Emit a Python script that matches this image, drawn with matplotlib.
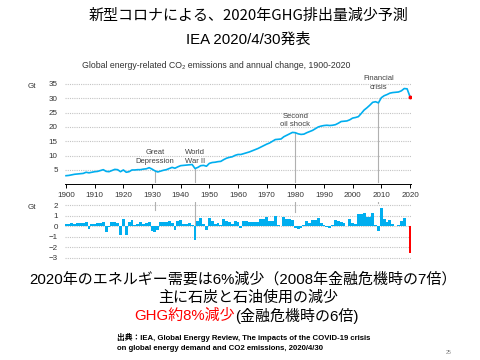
import matplotlib
matplotlib.use("Agg")
import matplotlib.pyplot as plt
import numpy as np

# ---------------- data ----------------
years = list(range(1900, 2021))
emissions = [
    3.0, 3.1, 3.3, 3.5, 3.6, 3.7, 3.8, 4.2, 4.0, 4.2,      # 1900s
    4.4, 4.5, 4.8, 5.1, 4.5, 4.4, 4.8, 5.2, 5.1, 4.4,      # 1910s
    5.0, 4.2, 4.4, 5.0, 5.0, 5.1, 5.1, 5.3, 5.4, 5.8,      # 1920s
    5.3, 4.7, 4.3, 4.6, 4.9, 5.1, 5.5, 5.9, 5.6, 6.1,      # 1930s
    6.5, 6.6, 6.7, 6.8, 6.9, 5.5, 5.9, 6.5, 6.6, 6.3,      # 1940s
    7.3, 7.6, 7.7, 7.9, 8.0, 8.6, 9.1, 9.4, 9.6, 10.1,     # 1950s
    10.4, 10.4, 10.7, 11.0, 11.3, 11.7, 12.1, 12.5, 13.0, 13.5,  # 1960s
    14.0, 14.4, 15.0, 15.6, 15.7, 15.8, 16.6, 17.1, 17.6, 18.1,  # 1970s
    18.0, 17.6, 17.4, 17.5, 18.0, 18.4, 18.8, 19.4, 20.0, 20.3,  # 1980s
    20.5, 20.6, 20.5, 20.6, 20.8, 21.3, 21.9, 22.0, 22.1, 22.5,  # 1990s
    23.1, 23.3, 23.6, 24.7, 25.9, 26.7, 27.6, 28.6, 28.8, 28.4,  # 2000s
    30.2, 30.9, 31.3, 31.8, 32.0, 32.1, 32.2, 32.6, 33.4, 33.3,  # 2010s
    30.6,                                                        # 2020
]
change_years = list(range(1900, 2020))
changes = [
    0.15, 0.15, 0.3, 0.2, 0.25, 0.25, 0.3, 0.4, -0.25, 0.2,     # 1900s
    0.2, 0.3, 0.3, 0.35, -0.6, -0.1, 0.35, 0.35, 0.3, -0.8,     # 1910s
    0.65, -0.8, 0.4, 0.6, 0.1, 0.2, 0.4, 0.2, 0.3, 0.35,        # 1920s
    -0.5, -0.6, -0.4, 0.4, 0.35, 0.4, 0.5, 0.3, -0.4, 0.5,      # 1930s
    0.6, 0.2, 0.2, 0.25, 0.1, -1.3, 0.5, 0.8, 0.2, -0.4,        # 1940s
    0.8, 0.45, 0.2, 0.3, 0.1, 0.7, 0.5, 0.4, 0.2, 0.5,          # 1950s
    0.4, -0.2, 0.45, 0.45, 0.4, 0.4, 0.35, 0.4, 0.65, 0.65,     # 1960s
    0.9, 0.5, 0.5, 1.0, 0.1, 0.0, 0.85, 0.65, 0.65, 0.6,        # 1970s
    -0.2, -0.3, -0.2, 0.1, 0.5, 0.3, 0.6, 0.6, 0.8, 0.3,        # 1980s
    0.1, -0.1, -0.2, 0.1, 0.55, 0.5, 0.4, 0.25, 0.0, 0.7,       # 1990s
    0.25, 0.2, 1.1, 1.1, 1.2, 0.9, 0.9, 1.2, 0.1, -0.5,         # 2000s
    1.7, 0.65, 0.4, 0.55, 0.15, 0.05, 0.1, 0.5, 0.75, 0.0,      # 2010s
]
change_2020 = -2.6

events = ["Great\nDepression", "World\nWar II", "Second\noil shock", "Financial\ncrisis"]
event_years = [1931, 1945, 1980, 2009]
event_label_y = [6.8, 6.8, 19.5, 32.5]   # Gt (label anchor)
event_line_top = [4.6, 5.4, 17.9, 28.6]
event_line_bottom = [1.5, -0.8, 1.3, 2.2]

xticks = list(range(1900, 2021, 10))
yticks_top = [5, 10, 15, 20, 25, 30, 35]
yticks_bot = [-3, -2, -1, 0, 1, 2]

title1 = "新型コロナによる、2020年GHG排出量減少予測"
title2 = "IEA 2020/4/30発表"
chart_title = "Global energy-related CO₂ emissions and annual change, 1900-2020"
line1 = "2020年のエネルギー需要は6%減少（2008年金融危機時の7倍）"
line2 = "主に石炭と石油使用の減少"
line3_red = "GHG約8%減少"
line3_black = "(金融危機時の6倍)"
src1 = "出典：IEA, Global Energy Review, The impacts of the COVID-19 crisis"
src2 = "on global energy demand and CO2 emissions, 2020/4/30"

# ---------------- figure ----------------
W, H = 480, 360
fig = plt.figure(figsize=(4.8, 3.6), dpi=100)
fig.patch.set_facecolor("white")

FAM = ["Liberation Sans", "Noto Sans CJK JP", "DejaVu Sans"]
CJK = ["Noto Sans CJK JP", "DejaVu Sans"]
BLUE = "#00AEEF"
GRID = "#c4c4c4"
TXT = "#404040"

def fx(px):
    return px / W

def fy(py):
    return 1 - py / H

# axes geometry (pixels)
x0_px, x1_px = 64.6, 411.4
top_ylim = (0, 35.5)
top_bottom_px = 184.3
top_top_px = top_bottom_px - 35.5 * 2.867
ax = fig.add_axes([fx(x0_px), fy(top_bottom_px), (x1_px - x0_px) / W,
                   (top_bottom_px - top_top_px) / H])
bot_ylim = (-3.2, 2.25)
ppg = (257.7 - 205.0) / 5
bot_top_px = 205.0 - 0.25 * ppg
bot_bottom_px = 257.7 + 0.2 * ppg
ax2 = fig.add_axes([fx(x0_px), fy(bot_bottom_px), (x1_px - x0_px) / W,
                    (bot_bottom_px - bot_top_px) / H])

# ---- top panel ----
for y in yticks_top:
    ax.axhline(y, color=GRID, lw=0.8, ls=(0, (1, 1)), zorder=0)
ax.plot(years, emissions, color=BLUE, lw=1.2, zorder=3, solid_joinstyle="round")
ax.plot([years[-1]], [emissions[-1]], "o", color="red", ms=1.8, zorder=4)
ax.set_xlim(1899.5, 2020.5)
ax.set_ylim(*top_ylim)
ax.set_xticks(xticks)
ax.set_yticks(yticks_top)
ax.tick_params(axis="x", direction="out", length=3, width=0.7, color="black",
               pad=2.2, labelsize=5.8, labelcolor="#333333")
ax.tick_params(axis="y", length=0, pad=5, labelsize=5.8, labelcolor="#333333")
for lab in ax.get_xticklabels() + ax.get_yticklabels():
    lab.set_family(FAM)
for s in ["top", "right", "left"]:
    ax.spines[s].set_visible(False)
ax.spines["bottom"].set_color("black")
ax.spines["bottom"].set_linewidth(0.7)
ax.patch.set_alpha(0)

for name, yr, ly, lt, lb in zip(events, event_years, event_label_y,
                                event_line_top, event_line_bottom):
    ax.plot([yr, yr], [0.9, lt], color="#b0b0b0", lw=0.8, zorder=2)
    ax.text(yr, ly, name, ha="center", va="bottom", fontsize=5.5, color=TXT,
            family=FAM, linespacing=1.35)
    ax2.plot([yr, yr], [lb, 2.25], color="#b0b0b0", lw=0.8, zorder=2)

# ---- bottom panel ----
for y in yticks_bot:
    ax2.axhline(y, color=GRID, lw=0.8, ls=(0, (1, 1)), zorder=0)
ax2.bar(change_years, changes, width=1.0, color=BLUE, zorder=3, linewidth=0)
ax2.bar([2020], [change_2020], width=1.0, color="#ff0000", zorder=3, linewidth=0)
ax2.set_xlim(1899.5, 2020.5)
ax2.set_ylim(*bot_ylim)
ax2.set_xticks([])
ax2.set_yticks(yticks_bot)
ax2.tick_params(axis="y", length=0, pad=5, labelsize=5.8, labelcolor="#333333")
for lab in ax2.get_yticklabels():
    lab.set_family(FAM)
for s in ax2.spines.values():
    s.set_visible(False)
ax2.patch.set_alpha(0)

# ---- texts ----
fig.text(fx(248), fy(16), title1, ha="center", va="center", fontsize=10.8,
         family=CJK, color="black")
fig.text(fx(248), fy(40), title2, ha="center", va="center", fontsize=10.8,
         family=FAM, color="black")
fig.text(fx(216), fy(66), chart_title, ha="center", va="center", fontsize=6.3,
         family=FAM, color="#333333")
fig.text(fx(32), fy(86), "Gt", ha="center", va="center", fontsize=5.8,
         family=FAM, color="#333333")
fig.text(fx(32), fy(208), "Gt", ha="center", va="center", fontsize=5.8,
         family=FAM, color="#333333")

fig.text(fx(243), fy(279), line1, ha="center", va="center", fontsize=10.8,
         family=FAM, color="black")
fig.text(fx(248), fy(298), line2, ha="center", va="center", fontsize=10.8,
         family=CJK, color="black")
fig.text(fx(235), fy(316), line3_red, ha="right", va="center", fontsize=10.8,
         family=FAM, color="#ff0000")
fig.text(fx(235), fy(316), line3_black, ha="left", va="center", fontsize=10.8,
         family=FAM, color="black")
fig.text(fx(117), fy(337), src1, ha="left", va="center", fontsize=5.6,
         family=FAM, weight="bold", color="black")
fig.text(fx(117), fy(348), src2, ha="left", va="center", fontsize=5.6,
         family=FAM, weight="bold", color="black")
fig.text(fx(449), fy(353), "25", ha="center", va="center", fontsize=3.8,
         family=FAM, color="#808080")

fig.savefig("out.png", dpi=100, facecolor="white")
